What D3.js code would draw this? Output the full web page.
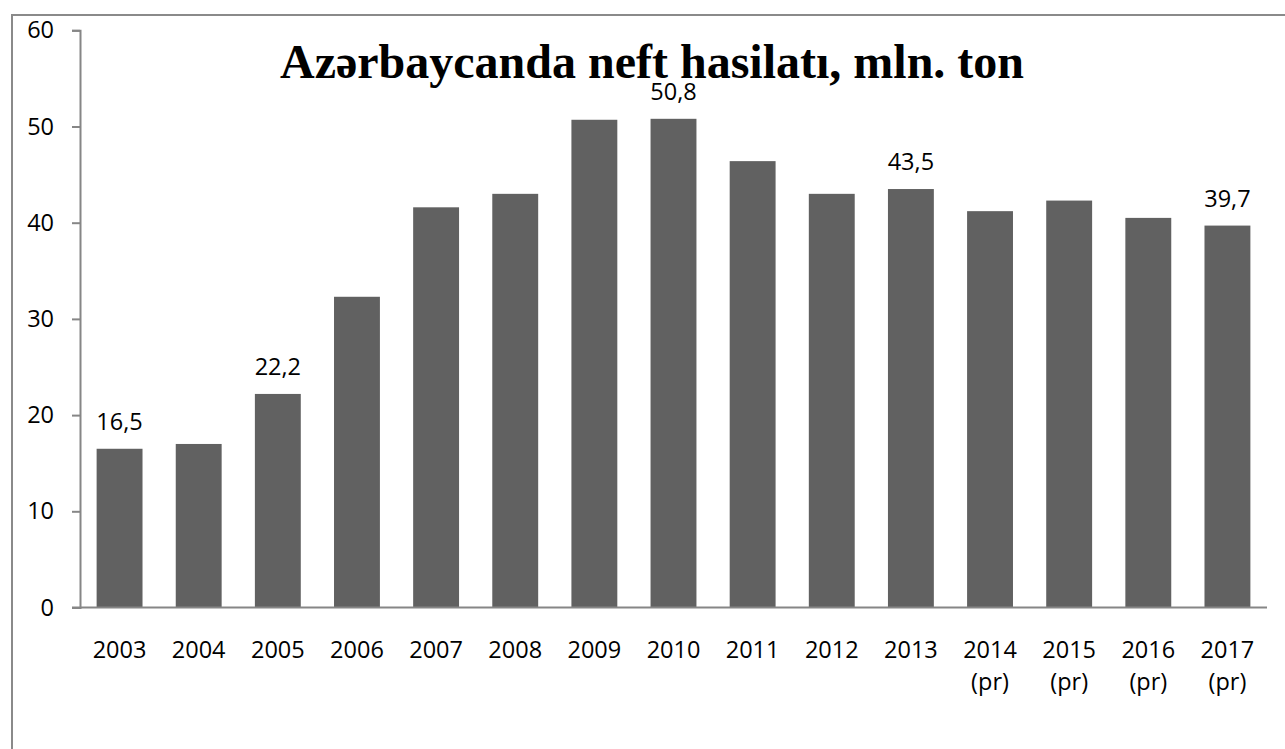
<!DOCTYPE html>
<html>
<head>
<meta charset="utf-8">
<script src="https://cdn.jsdelivr.net/npm/d3@7"></script>
<style>
	body { margin: 0; background: #fff; }
	svg { display: block; }
</style>
</head>
<body>
<svg id="chart" width="1285" height="749"></svg>
<script>
// data
const years = ["2003","2004","2005","2006","2007","2008","2009","2010","2011","2012","2013","2014","2015","2016","2017"];
const subLabels = ["","","","","","","","","","","","(pr)","(pr)","(pr)","(pr)"];
const output = [16.5, 17.0, 22.2, 32.3, 41.6, 43.0, 50.7, 50.8, 46.4, 43.0, 43.5, 41.2, 42.3, 40.5, 39.7];
const shownLabels = ["2003","2005","2010","2013","2017"]; // only these bars carry a value label
const yTicks = [0, 10, 20, 30, 40, 50, 60];
const title = "Azərbaycanda neft hasilatı, mln. ton";

const svg = d3.select('#chart');
const axisColor = "#868686";
const barColor = "#616161";
const font = "'Open Sans', 'Noto Sans', sans-serif";
const fontSize = "23.5px";

// outer frame (no right edge visible in the original)
svg.append("path")
	.attr("d", "M1290,15 H12 V760")
	.attr("fill", "none")
	.attr("stroke", "#8a8a8a")
	.attr("stroke-width", 2);

const plotLeft = 80, plotRight = 1267, plotTop = 30.3, plotBottom = 607.5;

const x = d3.scaleBand().domain(years).range([plotLeft, plotRight]).paddingInner(0.42).paddingOuter(0.21);
const y = d3.scaleLinear().domain([0, 60]).range([plotBottom, plotTop]);

// bars
svg.append("g").selectAll("rect")
	.data(output)
	.join("rect")
	.attr("x", (d, i) => x(years[i]))
	.attr("y", d => y(d))
	.attr("width", x.bandwidth())
	.attr("height", d => y(0) - y(d))
	.attr("fill", barColor);

// y axis
const yAxis = svg.append("g")
	.attr("transform", "translate(" + plotLeft + ",0)")
	.call(d3.axisLeft(y).tickValues(yTicks).tickSize(8).tickPadding(18).tickFormat(d3.format("d")));
yAxis.select(".domain").attr("stroke", axisColor).attr("stroke-width", 2);
yAxis.selectAll(".tick line").attr("stroke", axisColor).attr("stroke-width", 2);
yAxis.selectAll(".tick text")
	.attr("fill", "#000")
	.style("font-family", font)
	.style("font-size", fontSize);

// x axis line
svg.append("line")
	.attr("x1", plotLeft - 8).attr("x2", plotRight)
	.attr("y1", plotBottom).attr("y2", plotBottom)
	.attr("stroke", axisColor).attr("stroke-width", 2);

// x labels (two lines for forecast years)
const xl = svg.append("g").selectAll("text")
	.data(years)
	.join("text")
	.attr("x", d => x(d) + x.bandwidth() / 2)
	.attr("y", 658)
	.attr("text-anchor", "middle")
	.style("font-family", font)
	.style("font-size", fontSize)
	.attr("fill", "#000");
xl.append("tspan").text(d => d);
xl.append("tspan")
	.attr("x", d => x(d) + x.bandwidth() / 2)
	.attr("dy", 32)
	.text((d, i) => subLabels[i]);

// value labels
svg.append("g").selectAll("text")
	.data(output.map((v, i) => ({ year: years[i], v: v })).filter(d => shownLabels.includes(d.year)))
	.join("text")
	.attr("x", d => x(d.year) + x.bandwidth() / 2)
	.attr("y", d => y(d.v) - 19)
	.attr("text-anchor", "middle")
	.style("font-family", font)
	.style("font-size", fontSize)
	.attr("fill", "#000")
	.text(d => d.v.toFixed(1).replace(".", ","));

// title
svg.append("text")
	.attr("x", 652)
	.attr("y", 78)
	.attr("text-anchor", "middle")
	.style("font-family", "'Liberation Serif', 'Times New Roman', serif")
	.style("font-weight", "bold")
	.style("font-size", "48px")
	.attr("fill", "#000")
	.text(title);
</script>
</body>
</html>
